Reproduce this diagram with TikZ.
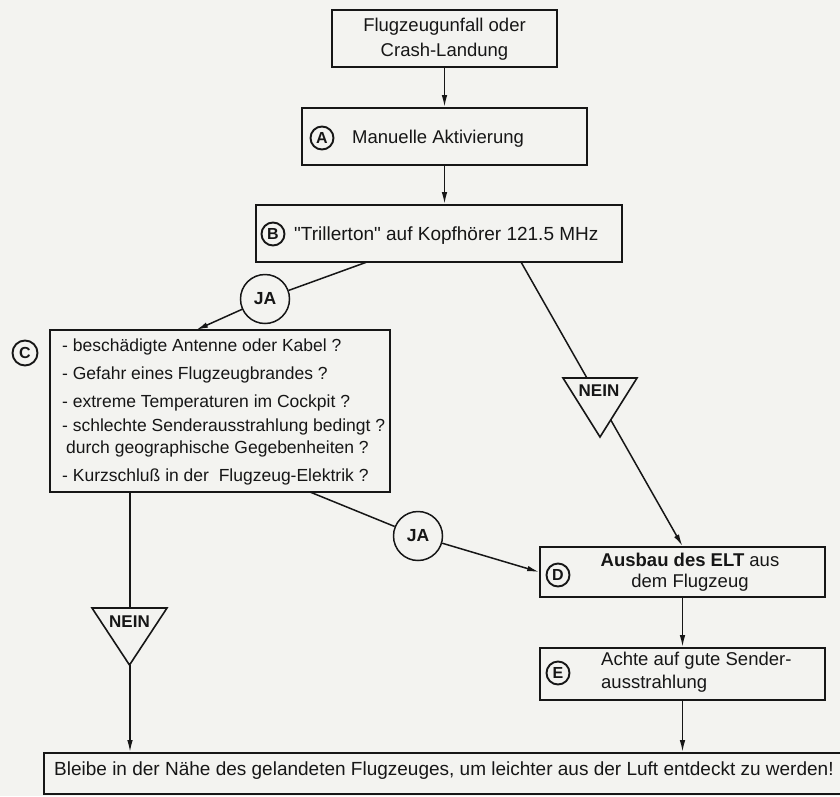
\documentclass[tikz,border=0pt]{standalone}
\usepackage{fontspec}
\setmainfont{Liberation Sans}[Ligatures=TeXOff]
\usetikzlibrary{arrows.meta,calc}
\definecolor{paper}{RGB}{243,243,240}
\definecolor{ink}{RGB}{22,22,22}
\begin{document}
\begin{tikzpicture}[x=1pt,y=-1pt,
  box/.style={draw=ink, line width=1.7pt, inner sep=0pt},
  mk/.style={circle, draw=ink, line width=1.9pt, inner sep=0pt, minimum size=23pt, text=ink, font=\fontsize{16}{16}\selectfont\bfseries},
  ja/.style={circle, draw=ink, line width=1.5pt, inner sep=0pt, minimum size=49pt, text=ink, font=\fontsize{17.5}{17.5}\selectfont\bfseries},
  txt/.style={inner sep=0pt, text=ink, font=\fontsize{18.5}{22}\selectfont},
  ctxt/.style={inner sep=0pt, text=ink, font=\fontsize{17.5}{22}\selectfont, anchor=base west},
  nein/.style={inner sep=0pt, text=ink, font=\fontsize{17}{17}\selectfont\bfseries},
  conn/.style={draw=ink, line width=1.5pt},
  arr/.style={conn, -{Latex[length=12pt,width=5.5pt]}},
  tri/.style={draw=ink, fill=paper, line width=1.6pt, line join=miter}]
\fill[paper] (0,0) rectangle (840,796);
\useasboundingbox (0,0) rectangle (840,796);
\clip (0,0) rectangle (840,796);

% boxes
\node[box, minimum width=225pt, minimum height=57pt] (n1) at (444.5,38.5) {};
\node[box, minimum width=285pt, minimum height=57pt] (nA) at (444.5,136.5) {};
\node[box, minimum width=366pt, minimum height=57pt] (nB) at (439,233.5) {};
\node[box, minimum width=340pt, minimum height=162pt] (nC) at (220,411) {};
\node[box, minimum width=285pt, minimum height=50pt] (nD) at (682.5,572) {};
\node[box, minimum width=285pt, minimum height=52pt] (nE) at (682.5,674) {};
\node[box, minimum width=806pt, minimum height=41pt] (nF) at (447,773.5) {};

% texts
\node[txt, anchor=base] (t1a) at (444.5,31) {Flugzeugunfall oder};
\node[txt, anchor=base] (t1b) at (444.5,56) {Crash-Landung};
\node[mk] (mA) at (322,138) {A};
\node[txt, anchor=base west] (tA) at (352,143) {Manuelle Aktivierung};
\node[mk] (mB) at (273,234) {B};
\node[txt, anchor=base west, font=\fontsize{19}{22}\selectfont] (tB) at (294,240) {"Trillerton" auf Kopfhörer 121.5 MHz};
\node[mk, minimum size=25pt] (mC) at (25,353) {C};
\node[ctxt] (c1) at (62,351) {- beschädigte Antenne oder Kabel ?};
\node[ctxt] (c2) at (62,379) {- Gefahr eines Flugzeugbrandes ?};
\node[ctxt] (c3) at (62,407) {- extreme Temperaturen im Cockpit ?};
\node[ctxt] (c4) at (62,431) {- schlechte Senderausstrahlung bedingt ?};
\node[ctxt] (c5) at (66,453) {durch geographische Gegebenheiten ?};
\node[ctxt] (c6) at (62,481) {- Kurzschluß in der~~Flugzeug-Elektrik ?};
\node[mk] (mD) at (558,575) {D};
\node[txt, anchor=base] (d1) at (690,566) {\textbf{Ausbau des ELT} aus};
\node[txt, anchor=base] (d2) at (690,587) {dem Flugzeug};
\node[mk] (mE) at (558,673) {E};
\node[txt, anchor=base west] (e1) at (601,665) {Achte auf gute Sender-};
\node[txt, anchor=base west] (e2) at (601,688) {ausstrahlung};
\node[txt, anchor=base west, font=\fontsize{19}{22}\selectfont] (tF) at (54,775) {Bleibe in der Nähe des gelandeten Flugzeuges, um leichter aus der Luft entdeckt zu werden!};

% decision circles
\node[ja] (ja1) at (265,299) {JA};
\node[ja] (ja2) at (418,536) {JA};

% connector anchor points
\coordinate (bL) at (367,262);
\coordinate (bR) at (521,262);
\coordinate (cT) at (196,330);
\coordinate (cL) at (130,492);
\coordinate (cR) at (310,492);
\coordinate (t2top) at (130,608);
\coordinate (t2apex) at (130,665);

% connectors
\draw[arr] (n1.south) -- (nA.north);
\draw[arr] (nA.south) -- (nA.south |- nB.north);
\draw[conn] (bL) -- (ja1);
\draw[arr] (ja1) -- (cT);
\draw[arr] (bR) -- (nD.north);
\draw[conn] (cR) -- (ja2);
\draw[arr] (ja2) -- (nD.west);
\draw[conn] (cL) -- (t2top);
\draw[arr] (t2apex) -- (nF.north -| t2apex);
\draw[arr] (nD.south) -- (nE.north);
\draw[arr] (nE.south) -- (nF.north -| nE.south);

% NEIN triangles
\draw[tri] (563,378) -- (637,378) -- (600,437) -- cycle;
\node[nein] (nein1) at (599,391) {NEIN};
\draw[tri] (92,608) -- (167,608) -- (129.5,665) -- cycle;
\node[nein] (nein2) at (129.5,622) {NEIN};
\end{tikzpicture}
\end{document}
